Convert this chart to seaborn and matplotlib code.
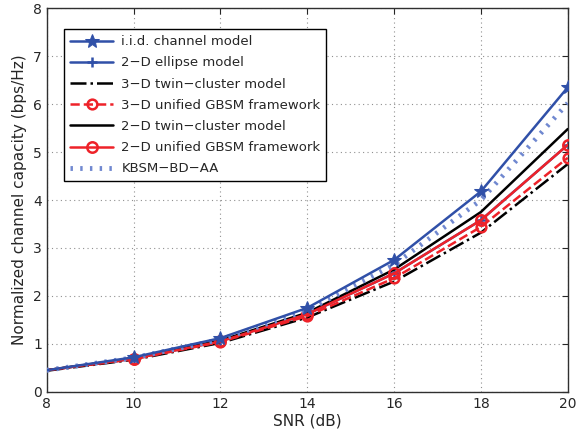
import matplotlib
matplotlib.use("Agg")
import matplotlib.pyplot as plt
import seaborn as sns
import pandas as pd

snr = [8, 10, 12, 14, 16, 18, 20]
iid = [0.45, 0.72, 1.12, 1.75, 2.75, 4.18, 6.35]
ellipse_2d = [0.45, 0.69, 1.06, 1.62, 2.47, 3.58, 5.15]
twin_3d = [0.44, 0.67, 1.02, 1.55, 2.30, 3.32, 4.75]
unified_3d = [0.45, 0.68, 1.04, 1.58, 2.37, 3.44, 4.88]
twin_2d = [0.45, 0.70, 1.07, 1.65, 2.55, 3.75, 5.48]
unified_2d = [0.45, 0.69, 1.05, 1.62, 2.47, 3.58, 5.15]
kbsm = [0.45, 0.71, 1.09, 1.70, 2.65, 4.00, 6.02]

labels = ["i.i.d. channel model", "2\u2212D ellipse model", "3\u2212D twin\u2212cluster model",
          "3\u2212D unified GBSM framework", "2\u2212D twin\u2212cluster model",
          "2\u2212D unified GBSM framework", "KBSM\u2212BD\u2212AA"]

blue = "#3050a8"
red = "#ee2229"
marks = [1, 2, 3, 4, 5, 6]

sns.set_style("white")
plt.rcParams["font.family"] = ["DejaVu Sans"]

fig = plt.figure(figsize=(5.77, 4.32), dpi=100)
ax = fig.add_axes([0.081, 0.093, 0.903, 0.888])

styles = [
    (iid, dict(color=blue, linestyle="-", marker="*", markersize=10, linewidth=1.8, zorder=5)),
    (ellipse_2d, dict(color=blue, linestyle="-", marker="+", markersize=7, markeredgewidth=1.8,
                      linewidth=1.8, zorder=2)),
    (twin_3d, dict(color="black", linestyle="-.", linewidth=1.8, zorder=3)),
    (unified_3d, dict(color=red, linestyle="--", marker="o", markersize=7, markerfacecolor="none",
                      markeredgewidth=1.8, linewidth=1.8, zorder=3)),
    (twin_2d, dict(color="black", linestyle="-", linewidth=1.8, zorder=3)),
    (unified_2d, dict(color=red, linestyle="-", marker="o", markersize=7.5, markerfacecolor="none",
                      markeredgewidth=1.8, linewidth=1.8, zorder=4)),
    (kbsm, dict(color="#7088d0", linestyle=(0, (0.5, 1.5)), linewidth=3.5, zorder=4)),
]

for (vals, kw), lab in zip(styles, labels):
    df = pd.DataFrame({"snr": snr, "cap": vals})
    extra = {"markevery": marks} if "marker" in kw else {}
    sns.lineplot(data=df, x="snr", y="cap", ax=ax, label=lab, markeredgecolor=kw["color"], **extra, **kw)

ax.set_xlim(8, 20)
ax.set_ylim(0, 8)
ax.set_xticks(range(8, 21, 2))
ax.set_yticks(range(0, 9))
ax.grid(True, linestyle=(0, (1, 3)), color="#909090", linewidth=0.8)
ax.tick_params(direction="in", labelsize=10, top=True, right=True, length=4)
for s in ax.spines.values():
    s.set_color("#303030")
    s.set_linewidth(1)
ax.set_xlabel("SNR (dB)", fontsize=11, labelpad=2)
ax.set_ylabel("Normalized channel capacity (bps/Hz)", fontsize=11, labelpad=4)

leg = ax.legend(loc="upper left", fontsize=9.5, frameon=True, fancybox=False, edgecolor="black",
                bbox_to_anchor=(0.033, 0.945), borderaxespad=0, handlelength=3.3,
                labelspacing=0.62, borderpad=0.45, framealpha=1, handletextpad=0.6)
leg.get_frame().set_linewidth(1)

fig.savefig("out.png", dpi=100)
